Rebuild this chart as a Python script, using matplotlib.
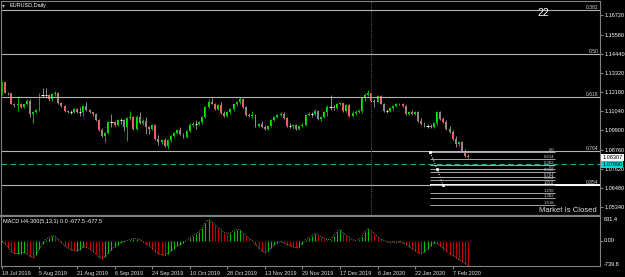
import numpy as np
import matplotlib.pyplot as plt
import matplotlib.transforms as mtrans

plt.rcParams['font.family'] = ['Liberation Sans', 'DejaVu Sans']

# EURUSD daily candles, 18 Jul 2019 .. 14 Feb 2020 (open = previous close)
first_open = 1.1203
closes = [1.1274, 1.1214, 1.1209, 1.1149, 1.1138, 1.1149, 1.1126, 1.1144, 1.1167, 1.1084,
          1.1096, 1.1108, 1.1197, 1.1197, 1.1197, 1.1173, 1.1203, 1.1214, 1.1155, 1.1132,
          1.1102, 1.1096, 1.1096, 1.1114, 1.1096, 1.1096, 1.1132, 1.1108, 1.1096, 1.1084,
          1.1049, 1.0990, 1.0954, 1.0972, 1.1037, 1.1037, 1.1019, 1.1049, 1.1049, 1.1008,
          1.1061, 1.1067, 1.0996, 1.1067, 1.1031, 1.1043, 1.1008, 1.0996, 1.1019, 1.0937,
          1.0919, 1.0931, 1.0895, 1.0931, 1.0954, 1.0972, 1.0990, 1.0966, 1.0948, 1.0984,
          1.1019, 1.1025, 1.1025, 1.1037, 1.1067, 1.1126, 1.1161, 1.1149, 1.1114, 1.1138,
          1.1090, 1.1073, 1.1096, 1.1114, 1.1144, 1.1161, 1.1173, 1.1126, 1.1078, 1.1073,
          1.1078, 1.1013, 1.1025, 1.1008, 1.0996, 1.1013, 1.1049, 1.1067, 1.1078, 1.1084,
          1.1061, 1.1013, 1.1013, 1.1019, 1.0996, 1.1013, 1.1019, 1.1078, 1.1084, 1.1084,
          1.1102, 1.1055, 1.1067, 1.1096, 1.1126, 1.1126, 1.1120, 1.1149, 1.1155, 1.1102,
          1.1138, 1.1073, 1.1090, 1.1096, 1.1102, 1.1179, 1.1197, 1.1209, 1.1167, 1.1161,
          1.1191, 1.1149, 1.1102, 1.1102, 1.1120, 1.1132, 1.1149, 1.1144, 1.1132, 1.1084,
          1.1096, 1.1084, 1.1096, 1.1043, 1.1025, 1.1013, 1.1013, 1.1008, 1.1031, 1.1096,
          1.1055, 1.1037, 1.0996, 1.0978, 1.0937, 1.0907, 1.0919, 1.0866, 1.0836, 1.0830]
highs = [1.1285, 1.1279, 1.1220, 1.1214, 1.1155, 1.1185, 1.1155, 1.1149, 1.1173, 1.1173,
         1.1102, 1.1114, 1.1209, 1.1244, 1.1244, 1.1203, 1.1209, 1.1226, 1.1220, 1.1161,
         1.1138, 1.1108, 1.1108, 1.1120, 1.1120, 1.1126, 1.1138, 1.1161, 1.1114, 1.1096,
         1.1090, 1.1055, 1.1002, 1.0978, 1.1043, 1.1084, 1.1043, 1.1055, 1.1061, 1.1055,
         1.1067, 1.1102, 1.1073, 1.1078, 1.1096, 1.1055, 1.1067, 1.1013, 1.1025, 1.1025,
         1.0960, 1.0937, 1.0943, 1.0937, 1.0960, 1.0978, 1.0996, 1.1008, 1.0972, 1.0990,
         1.1031, 1.1037, 1.1049, 1.1043, 1.1073, 1.1132, 1.1173, 1.1179, 1.1155, 1.1144,
         1.1161, 1.1102, 1.1102, 1.1120, 1.1149, 1.1167, 1.1185, 1.1179, 1.1132, 1.1090,
         1.1102, 1.1084, 1.1031, 1.1043, 1.1019, 1.1019, 1.1055, 1.1073, 1.1084, 1.1096,
         1.1096, 1.1067, 1.1031, 1.1025, 1.1025, 1.1019, 1.1031, 1.1084, 1.1096, 1.1096,
         1.1114, 1.1108, 1.1073, 1.1102, 1.1138, 1.1197, 1.1138, 1.1155, 1.1161, 1.1155,
         1.1144, 1.1144, 1.1102, 1.1108, 1.1114, 1.1185, 1.1214, 1.1232, 1.1214, 1.1173,
         1.1197, 1.1197, 1.1155, 1.1114, 1.1126, 1.1138, 1.1155, 1.1155, 1.1155, 1.1138,
         1.1102, 1.1108, 1.1102, 1.1102, 1.1061, 1.1037, 1.1025, 1.1025, 1.1037, 1.1102,
         1.1102, 1.1067, 1.1049, 1.1013, 1.0990, 1.0954, 1.0925, 1.0925, 1.0877, 1.0848]
lows = [1.1197, 1.1209, 1.1197, 1.1144, 1.1126, 1.1102, 1.1120, 1.1120, 1.1138, 1.1067,
        1.1031, 1.1090, 1.1102, 1.1185, 1.1179, 1.1167, 1.1167, 1.1191, 1.1149, 1.1126,
        1.1096, 1.1090, 1.1084, 1.1090, 1.1090, 1.1073, 1.1073, 1.1102, 1.1090, 1.1073,
        1.1043, 1.0984, 1.0948, 1.0919, 1.0966, 1.1008, 1.1013, 1.1013, 1.1025, 1.0984,
        1.0925, 1.1049, 1.0990, 1.0990, 1.1025, 1.1019, 1.0966, 1.0966, 1.0990, 1.0931,
        1.0901, 1.0907, 1.0889, 1.0877, 1.0919, 1.0948, 1.0966, 1.0960, 1.0943, 1.0943,
        1.0978, 1.1008, 1.0996, 1.1019, 1.1025, 1.1061, 1.1120, 1.1144, 1.1108, 1.1108,
        1.1084, 1.1067, 1.1067, 1.1084, 1.1102, 1.1132, 1.1149, 1.1120, 1.1073, 1.1067,
        1.1061, 1.1008, 1.1008, 1.1002, 1.0990, 1.0990, 1.1008, 1.1043, 1.1061, 1.1073,
        1.1055, 1.1008, 1.1002, 1.0996, 1.0990, 1.0990, 1.1008, 1.1013, 1.1073, 1.1067,
        1.1073, 1.1049, 1.1043, 1.1061, 1.1073, 1.1108, 1.1108, 1.1114, 1.1138, 1.1096,
        1.1096, 1.1067, 1.1067, 1.1078, 1.1090, 1.1090, 1.1167, 1.1191, 1.1161, 1.1126,
        1.1161, 1.1144, 1.1096, 1.1090, 1.1096, 1.1108, 1.1126, 1.1138, 1.1126, 1.1078,
        1.1078, 1.1078, 1.1078, 1.1037, 1.1019, 1.1008, 1.1002, 1.1002, 1.1002, 1.1019,
        1.1049, 1.1031, 1.0990, 1.0972, 1.0931, 1.0889, 1.0895, 1.0860, 1.0830, 1.0824]

# MACD H4-300 histogram, one value per daily bar
macd = [-34, -102, -238, -374, -442, -442, -442, -408, -442, -544,
        -578, -476, -272, -102, 34, 102, 170, 136, 34, -68,
        -170, -238, -306, -340, -340, -306, -204, -238, -272, -374,
        -442, -544, -612, -544, -408, -306, -204, -136, -68, -34,
        0, 34, 68, 68, 34, -34, -102, -170, -272, -374,
        -442, -476, -510, -442, -340, -272, -170, -136, -68, 0,
        102, 170, 238, 306, 442, 612, 714, 646, 544, 442,
        374, 272, 238, 272, 340, 374, 374, 272, 170, 68,
        0, -136, -238, -340, -408, -340, -238, -136, -68, -34,
        -68, -136, -170, -204, -238, -204, -102, 34, 102, 170,
        238, 204, 136, 68, 34, 34, 170, 306, 374, 272,
        170, 102, 34, 0, 34, 136, 306, 408, 340, 238,
        136, 68, 0, -34, -68, -34, -68, -34, -68, -136,
        -204, -272, -340, -408, -442, -374, -272, -170, -68, -102,
        -170, -272, -340, -442, -510, -578, -646, -714, -782, -850]

date_bars = [0, 12, 24, 36, 48, 60, 72, 84, 96, 108, 120, 132, 144]
date_labels = ['18 Jul 2019', '5 Aug 2019', '21 Aug 2019', '6 Sep 2019', '24 Sep 2019',
               '10 Oct 2019', '28 Oct 2019', '13 Nov 2019', '29 Nov 2019', '17 Dec 2019',
               '6 Jan 2020', '22 Jan 2020', '7 Feb 2020']
price_ticks = [1.16720, 1.15580, 1.14440, 1.13320, 1.12180, 1.11040,
               1.09900, 1.08760, 1.07620, 1.06480, 1.05340]

# fibonacci objects drawn on the chart
fib_big_start, fib_big_end = 1.2542, 1.0347
fib_big_levels = [0.382, 0.5, 0.618, 0.764, 0.854]
fib_big_labels = ['0.382', '0.50', '0.618', '0.764', '0.854']
fib_small_start, fib_small_end = 1.0860, 1.0665
fib_small_levels = [0.0, 0.214, 0.382, 0.5, 0.618, 0.764, 0.854, 1.0, 1.236, 1.382, 1.618]
fib_small_labels = ['0.0', '0.214', '0.382', '0.5', '0.618', '0.764', '0.854', '100.0',
                    '1.236', '1.382', '1.618']
fib_small_bars = [136.8, 176.7]
trend_bars = [136.8, 139.0, 140.9]
trend_prices = [1.0860, 1.0762, 1.0665]
sep_bar = 118
bid_price, bid_text = 1.0830, '1.08307'
ask_price, ask_text = 1.0789, '1.07890'

closes = np.array(closes)
highs = np.array(highs)
lows = np.array(lows)
opens = np.r_[first_open, closes[:-1]]
macd = np.array(macd)
idx = np.arange(len(closes))

W, H = 625, 277
def box(x0, y0, x1, y1):
    return [x0 / W, 1 - y1 / H, (x1 - x0) / W, (y1 - y0) / H]

fig = plt.figure(figsize=(W / 100, H / 100), dpi=100, facecolor='black')
ax = fig.add_axes(box(1, 1, 600, 215.5), facecolor='black')
ax2 = fig.add_axes(box(1, 217, 600, 266), facecolor='black')
xlim = (-0.3, 191.07)
grey = '#808080'

# candles
up = closes > opens
dn = closes < opens
dj = closes == opens
ax.vlines(idx[up], lows[up], highs[up], color='#00b400', lw=0.7)
ax.vlines(idx[~up], lows[~up], highs[~up], color='#8a8a8a', lw=0.7)
ax.bar(idx[up], closes[up] - opens[up], bottom=opens[up], width=0.62, color='#00f000', lw=0)
ax.bar(idx[dn], closes[dn] - opens[dn], bottom=opens[dn], width=0.62, color='#f25c5c', lw=0)
ax.hlines(closes[dj], idx[dj] - 0.4, idx[dj] + 0.4, color='white', lw=0.7)

# long fibo levels across the chart
yx = mtrans.blended_transform_factory(ax.transAxes, ax.transData)
for lvl, lbl in zip(fib_big_levels, fib_big_labels):
    p = fib_big_start + lvl * (fib_big_end - fib_big_start)
    ax.axhline(p, color='#b4b4b4', lw=0.8)
    ax.text(0.997, p, lbl, transform=yx, ha='right', va='bottom', fontsize=3.6, color='#d0d0d0')
p854 = fib_big_start + 0.854 * (fib_big_end - fib_big_start)
ax.hlines(p854, fib_small_bars[0], xlim[1], color='white', lw=1.4)

# short fibo
for lvl, lbl in zip(fib_small_levels, fib_small_labels):
    p = fib_small_start + lvl * (fib_small_end - fib_small_start)
    ax.hlines(p, fib_small_bars[0], fib_small_bars[1], color='#a8a8a8', lw=0.7)
    ax.text(fib_small_bars[1] - 0.3, p, lbl, ha='right', va='bottom', fontsize=3.1,
            color='#d0d0d0', linespacing=0.8)
ax.plot(trend_bars, trend_prices, ls=':', color='#d8d8d8', lw=0.8,
        marker='s', ms=1.1, mfc='white', mec='white')

ax.axvline(sep_bar, color='#555555', ls=(0, (1, 1)), lw=0.8)
ax.axhline(ask_price, color='#1fa3a3', ls=(0, (5, 3)), lw=0.8)

ax.set_xlim(*xlim)
ax.set_ylim(1.0484, 1.1758)
ax.yaxis.tick_right()
ax.set_yticks(price_ticks, [f'{p:.5f}' for p in price_ticks])
ax.tick_params(axis='y', colors=grey, labelcolor='white', labelsize=4, length=2, pad=1)
ax.tick_params(axis='x', bottom=False, labelbottom=False)
for s in ax.spines.values():
    s.set_color(grey)
ax.spines['bottom'].set_linewidth(1.6)

ax.text(1.004, bid_price, bid_text, transform=yx, fontsize=4, color='black', va='center',
        bbox=dict(fc='white', ec='none', pad=0.7), clip_on=False)
ax.text(1.004, ask_price, ask_text, transform=yx, fontsize=4, color='black', va='center',
        bbox=dict(fc='#00dada', ec='none', pad=0.7), clip_on=False)

# MACD window
cols = ['#00c000' if i == 0 or macd[i] >= macd[i - 1] else '#c00000' for i in idx]
ax2.vlines(idx, 0, macd, colors=cols, lw=0.8)
ax2.plot(idx, macd, ls=':', color='#a0a0a0', lw=0.6)
ax2.set_xlim(*xlim)
ax2.set_ylim(-867, 799)
ax2.yaxis.tick_right()
ax2.set_yticks([0], ['0.00'])
ax2.tick_params(axis='y', colors=grey, labelcolor='white', labelsize=4, length=2, pad=1)
ax2.set_xticks(date_bars, date_labels)
ax2.tick_params(axis='x', colors=grey, labelcolor='#e0e0e0', labelsize=4, length=2, pad=1.5)
plt.setp(ax2.get_xticklabels(), ha='left')
for s in ax2.spines.values():
    s.set_color(grey)
ax2.spines['top'].set_visible(False)
ax2.text(1.006, 0.94, '831.4', transform=ax2.transAxes, fontsize=4, color='white', va='center')
ax2.text(1.006, 0.04, '-739.8', transform=ax2.transAxes, fontsize=4, color='white', va='center')

# texts
fig.text(2 / W, 1 - 5.5 / H, '\u25be', fontsize=4, color='#c0c0c0', va='center', family='DejaVu Sans')
fig.text(9 / W, 1 - 5.5 / H, 'EURUSD,Daily', fontsize=4, color='white', va='center')
fig.text(543 / W, 1 - 13 / H, '22', fontsize=7.5, color='white', ha='center', va='center')
fig.text(568 / W, 1 - 211 / H, 'Market Is Closed', fontsize=5.5, color='#e0e0e0', ha='center', va='center')
fig.text(3 / W, 1 - 221.5 / H, 'MACD H4-300(5,13,1) 0.0 -677.5 -677.5', fontsize=4, color='white', va='center')

fig.savefig('out.png', dpi=100, facecolor='black')
